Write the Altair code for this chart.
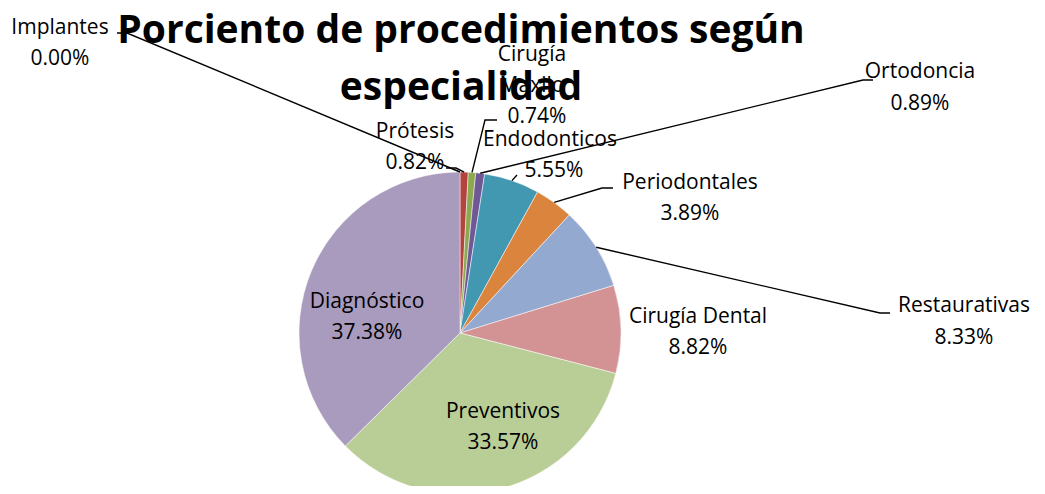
import math
import altair as alt
import pandas as pd

# ---- data ----
categories = ["Implantes", "Prótesis", "Cirugía Maxilo", "Ortodoncia", "Endodonticos",
              "Periodontales", "Restaurativas", "Cirugía Dental", "Preventivos", "Diagnóstico"]
values = [0.00, 0.82, 0.74, 0.89, 5.55, 3.89, 8.33, 8.82, 33.57, 37.38]
colors = ["#4F81BD", "#B2433F", "#8DA94F", "#6F5895", "#4398B1",
          "#DB843D", "#94A9D0", "#D39293", "#B9CE97", "#A99BBE"]
title_lines = ["Porciento de procedimientos según", "especialidad"]

# ---- layout (page pixel coordinates) ----
W, H, M = 1029, 478, 8
CX, CY, R = 460, 333, 161
FONT = "Open Sans"

label_layout = {
    "Implantes": [("Implantes", 60, 28), ("pct", 60, 59)],
    "Prótesis": [("Prótesis", 415, 132), ("pct", 415, 163)],
    "Cirugía Maxilo": [("Cirugía", 532, 55), ("Maxilo", 532, 86), ("pct", 537, 117)],
    "Ortodoncia": [("Ortodoncia", 920, 72), ("pct", 920, 104)],
    "Endodonticos": [("Endodonticos", 550, 140), ("pct", 554, 171)],
    "Periodontales": [("Periodontales", 690, 183), ("pct", 690, 214)],
    "Restaurativas": [("Restaurativas", 964, 306), ("pct", 964, 338)],
    "Cirugía Dental": [("Cirugía Dental", 698, 317), ("pct", 698, 348)],
    "Preventivos": [("Preventivos", 503, 412), ("pct", 503, 443)],
    "Diagnóstico": [("Diagnóstico", 367, 302), ("pct", 367, 333)],
}
leader_layout = {
    "Implantes": [(127, 33), (117, 33)],
    "Prótesis": [(456, 168), (446, 168)],
    "Cirugía Maxilo": [(485, 120), (497, 120)],
    "Ortodoncia": [(863, 80), (873, 80)],
    "Endodonticos": [(517, 175)],
    "Periodontales": [(602, 188), (613, 188)],
    "Restaurativas": [(880, 313), (890, 313)],
}
title_pos = [(461, 31), (461, 88)]

# ---- build tables ----
total = sum(values)
pie_df = pd.DataFrame({"cat": categories, "val": values, "order": list(range(len(values)))})

text_rows = []
for cat, v in zip(categories, values):
    for t, x, y in label_layout[cat]:
        txt = f"{v:.2f}%" if t == "pct" else t
        text_rows.append({"x": x - M, "y": y - M, "t": txt})
text_df = pd.DataFrame(text_rows)

line_rows = []
cum = 0.0
for cat, v in zip(categories, values):
    a = 2 * math.pi * (cum + v / 2) / total
    cum += v
    if cat not in leader_layout:
        continue
    ex = CX + R * math.sin(a)
    ey = CY - R * math.cos(a)
    pts = [(ex, ey)] + leader_layout[cat]
    for i, (x, y) in enumerate(pts):
        line_rows.append({"cat": cat, "i": i, "x": x - M, "y": y - M})
line_df = pd.DataFrame(line_rows)

title_df = pd.DataFrame([{"x": x - M, "y": y - M, "t": t} for t, (x, y) in zip(title_lines, title_pos)])

xs = alt.Scale(domain=[0, W], nice=False, zero=False)
ys = alt.Scale(domain=[0, H], nice=False, zero=False, reverse=True)

pie = alt.Chart(pie_df).mark_arc(radius=R, stroke="white", strokeWidth=0.5).encode(
    theta=alt.Theta("val:Q", stack=True),
    color=alt.Color("cat:N", scale=alt.Scale(domain=categories, range=colors), legend=None),
    order=alt.Order("order:Q"),
    x=alt.value(CX - M),
    y=alt.value(CY - M),
)

lines = alt.Chart(line_df).mark_line(color="black", strokeWidth=1.4).encode(
    x=alt.X("x:Q", scale=xs, axis=None),
    y=alt.Y("y:Q", scale=ys, axis=None),
    detail="cat:N",
    order="i:Q",
)

labels = alt.Chart(text_df).mark_text(font=FONT, fontSize=21, color="black",
                                      align="center", baseline="middle").encode(
    x=alt.X("x:Q", scale=xs, axis=None),
    y=alt.Y("y:Q", scale=ys, axis=None),
    text="t:N",
)

title = alt.Chart(title_df).mark_text(font=FONT, fontSize=39, fontWeight="bold", color="black",
                                      align="center", baseline="middle").encode(
    x=alt.X("x:Q", scale=xs, axis=None),
    y=alt.Y("y:Q", scale=ys, axis=None),
    text="t:N",
)

chart = alt.layer(pie, lines, labels, title).properties(
    width=W, height=H, autosize=alt.AutoSizeParams(type="none"), padding=0,
    background="white",
).configure_view(stroke=None)

chart.save("out.html", embed_options={"renderer": "svg", "actions": False})
